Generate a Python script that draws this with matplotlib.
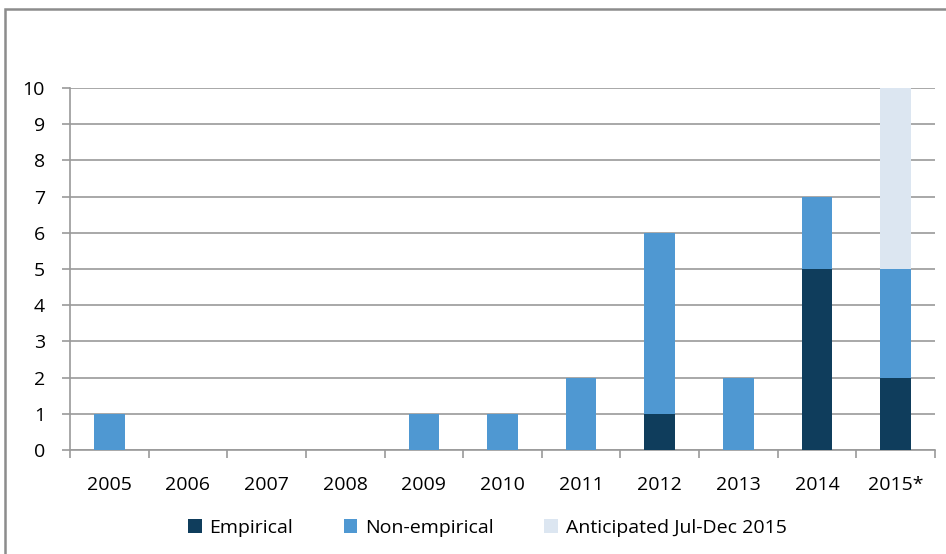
import numpy as np
import matplotlib
matplotlib.use("Agg")
import matplotlib.pyplot as plt
from matplotlib.patches import Rectangle

years = ['2005', '2006', '2007', '2008', '2009', '2010', '2011', '2012', '2013', '2014', '2015*']
empirical = [0, 0, 0, 0, 0, 0, 0, 1, 0, 5, 2]
non_empirical = [1, 0, 0, 0, 1, 1, 2, 5, 2, 2, 3]
anticipated = [0, 0, 0, 0, 0, 0, 0, 0, 0, 0, 5]

c_emp = '#0f3d5c'
c_non = '#4f98d2'
c_ant = '#dce6f1'

plt.rcParams['font.family'] = ['Open Sans', 'DejaVu Sans']

fig = plt.figure(figsize=(9.46, 5.54), dpi=100)
ax = fig.add_axes([70 / 946, 1 - 450 / 554, 865 / 946, 362 / 554])

x = np.arange(len(years))
emp = np.array(empirical)
non = np.array(non_empirical)
ant = np.array(anticipated)
w = 0.39
ax.bar(x, emp, w, color=c_emp, label='Empirical', zorder=3)
ax.bar(x, non, w, bottom=emp, color=c_non, label='Non-empirical', zorder=3)
ax.bar(x, ant, w, bottom=emp + non, color=c_ant, label='Anticipated Jul-Dec 2015', zorder=3)

ax.set_xlim(-0.5, len(years) - 0.5)
ax.set_ylim(0, 10)
ax.set_yticks(range(0, 11))
ax.yaxis.grid(True, color='#9a9a9a', linewidth=1.2, zorder=0)
ax.set_xticks(x)
ax.set_xticklabels(years)
ax.set_xticks(np.arange(-0.5, len(years)), minor=True)
ax.tick_params(axis='x', which='major', length=0, pad=19, labelsize=14)
ax.tick_params(axis='x', which='minor', length=6, color='#9a9a9a', width=1.2)
ax.tick_params(axis='y', length=6, color='#9a9a9a', width=1.2, pad=12, labelsize=14)
for s in ['top', 'right']:
    ax.spines[s].set_visible(False)
for s in ['left', 'bottom']:
    ax.spines[s].set_color('#9a9a9a')
    ax.spines[s].set_linewidth(1.2)

fig.legend(loc='center', bbox_to_anchor=(0.515, 1 - 528 / 554), ncol=3, frameon=False,
           fontsize=14, handlelength=0.7, handleheight=0.7, handletextpad=0.4,
           columnspacing=2.6)

fig.patches.append(Rectangle((5 / 946, -0.1), 1.2, 1 - 9 / 554 + 0.1, transform=fig.transFigure,
                             fill=False, edgecolor='#8c8c8c', linewidth=1.8))

fig.savefig('out.png', dpi=100)
